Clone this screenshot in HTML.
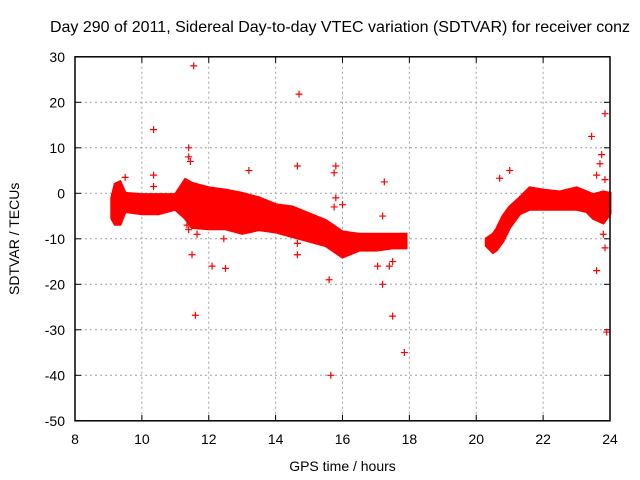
<!DOCTYPE html>
<html><head><meta charset="utf-8"><style>
body{margin:0;background:#fff}
svg{display:block;font-family:"Liberation Sans",sans-serif}
</style></head><body>
<svg id="c" width="640" height="480"></svg>
<script>
const xTicks=[8,10,12,14,16,18,20,22,24];
const yTicks=[-50,-40,-30,-20,-10,0,10,20,30];
const band1Hours=[9.1,9.2,9.35,9.5,10,10.5,11,11.3,11.5,12,12.5,13,13.5,14,14.5,15,15.5,16,16.5,17,17.5,17.9];
const band1Upper=[-1,2,2.5,0,-0.3,-0.3,-0.3,3,2.2,1.2,0.7,0,-1,-2.5,-3,-4.5,-6,-8.5,-9,-9,-9,-9];
const band1Lower=[-5.5,-6.8,-6.8,-4,-4.5,-4.5,-3.5,-5.5,-7.5,-7.8,-7.8,-8.8,-8,-8.5,-9.5,-10.5,-11.5,-14,-12.5,-12.5,-12,-12];
const band2Hours=[20.3,20.5,20.6,20.8,21,21.3,21.6,22,22.5,23,23.3,23.5,23.8,24];
const band2Upper=[-10,-9,-8,-5,-3,-1,1.2,0.7,0.3,1.2,0.3,-0.3,0.3,0];
const band2Lower=[-11.5,-13,-12.5,-10.5,-7.5,-4.5,-3.5,-3.5,-3.5,-3.5,-4,-5.5,-6.5,-4.5];
const outX=[11.55,10.35,14.7,11.4,11.45,13.2,14.65,15.8,15.75,10.35,10.35,9.5,11.5,11.6,12.1,12.5,12.45,11.65,11.35,15.6,15.65,15.75,17.2,17.5,17.85,17.25,17.05,17.4,14.65,14.65,16,21,20.7,23.45,23.7,23.75,23.85,23.85,23.8,23.6,23.9,23.6,23.85,11.4,11.4,15.8,16.1,17.2,17.5];
const outY=[28,14,21.8,10,7,5,6,6,4.5,4,1.5,3.5,-13.5,-26.8,-16,-16.5,-10,-9,-7,-19,-40,-3,-20,-27,-35,2.5,-16,-16,-11,-13.5,-2.5,5,3.3,12.5,6.5,8.5,17.5,-12,-9,-17,-30.5,4,3,8,-8,-1,-9,-5,-15];
const X0=75,X1=610,Y0=56.8,Y1=420.8;
const sx=v=>X0+(v-8)/16*(X1-X0);
const sy=v=>Y0+(30-v)/80*(Y1-Y0);
const svg=document.getElementById('c');
const NS='http://www.w3.org/2000/svg';
function mk(t,a,p){const e=document.createElementNS(NS,t);for(const k in a)e.setAttribute(k,a[k]);(p||svg).appendChild(e);return e;}
const t=mk('text',{x:340,y:32,'text-anchor':'middle','font-size':16,fill:'#000'});t.textContent='Day 290 of 2011, Sidereal Day-to-day VTEC variation (SDTVAR) for receiver conz';


xTicks.forEach(v=>{
 const x=sx(v);
 if(v>8&&v<24){const g=mk('line',{x1:x,x2:x,y1:Y0,y2:Y1,stroke:'#a0a0a0','stroke-dasharray':'2,3'});}
 const l=mk('text',{x:x,y:Y1+23,'text-anchor':'middle','font-size':14});l.textContent=v;
 
 
 mk('line',{x1:x,x2:x,y1:Y1,y2:Y1-6,stroke:'#000'});mk('line',{x1:x,x2:x,y1:Y0,y2:Y0+6,stroke:'#000'});
});
yTicks.forEach(v=>{
 const y=sy(v);
 if(v>-50&&v<30){const g=mk('line',{x1:X0,x2:X1,y1:y,y2:y,stroke:'#a0a0a0','stroke-dasharray':'2,3'});}
 const l=mk('text',{x:X0-10,y:y+5,'text-anchor':'end','font-size':14});l.textContent=v;
 
 
 mk('line',{x1:X0,x2:X0+6,y1:y,y2:y,stroke:'#000'});mk('line',{x1:X1,x2:X1-6,y1:y,y2:y,stroke:'#000'});
});
function band(h,u,lo,name){
 let pts=h.map((v,i)=>sx(v)+','+sy(u[i]));
 for(let i=h.length-1;i>=0;i--)pts.push(sx(h[i])+','+sy(lo[i]));
 const p=mk('polygon',{points:pts.join(' '),fill:'#ff0000',stroke:'#ff0000','stroke-width':3});
 
 
}
band(band1Hours,band1Upper,band1Lower,'data-band-1');
band(band2Hours,band2Upper,band2Lower,'data-band-2');
outX.forEach((v,i)=>{
 const x=sx(v),y=sy(outY[i]);
 const p=mk('path',{d:`M${x-3.5},${y}H${x+3.5}M${x},${y-3.5}V${y+3.5}`,stroke:'#ff0000','stroke-width':1.2});
 
 
});
const fr=mk('rect',{x:X0,y:Y0,width:X1-X0,height:Y1-Y0,fill:'none',stroke:'#000','stroke-width':1.5});


const xl=mk('text',{x:(X0+X1)/2,y:471,'text-anchor':'middle','font-size':14});xl.textContent='GPS time / hours';


const yl=mk('text',{x:0,y:0,'text-anchor':'middle','font-size':14,transform:`translate(19,${(Y0+Y1)/2}) rotate(-90)`});yl.textContent='SDTVAR / TECUs';


</script>
</body></html>
